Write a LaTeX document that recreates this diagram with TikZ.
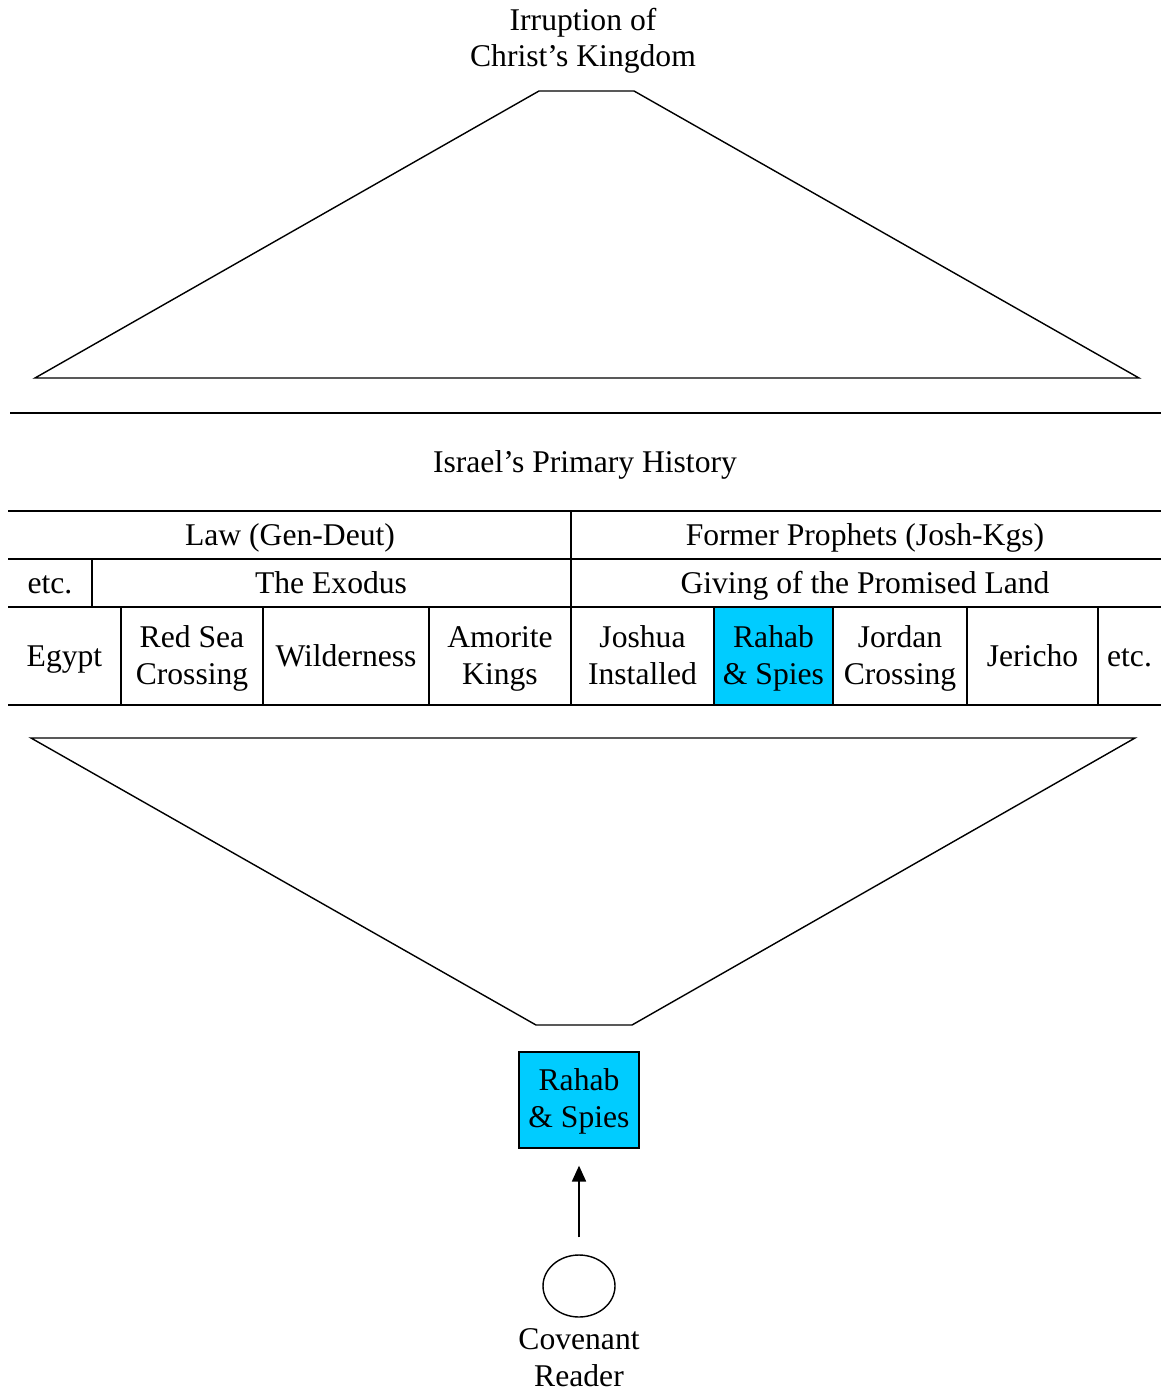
\documentclass[tikz,border=0pt]{standalone}
\usepackage{fontspec}
\setmainfont{Liberation Serif}
\usepackage{tikz}
\usetikzlibrary{arrows.meta,shapes.geometric}
\definecolor{rahabCyan}{HTML}{00CCFF}

\begin{document}
\begin{tikzpicture}[x=0.02cm, y=-0.02cm, line width=0.8pt,
        every node/.style={font=\fontsize{18}{21}\selectfont, align=center, inner sep=0pt},
        label/.style={anchor=base},
        grid/.style={line width=1.1pt}]
                \useasboundingbox (0, 0) rectangle (1161, 1391);
                \node[label] (kingdom) at (583, 67) {Irruption of\\Christ's Kingdom};
                \draw (35, 378) -- (539, 91) -- (634, 91) -- (1139, 378) -- cycle;
                \draw[grid] (10, 413) -- (1161, 413);
                \node[label] (history) at (585, 472) {Israel's Primary History};
                \fill[rahabCyan] (714, 607) rectangle (833, 705);
                \foreach \y in {511, 559, 607, 705}
                    \draw[grid] (8, \y) -- (1161, \y);
                \draw[grid] (571, 511) -- (571, 705);
                \draw[grid] (92, 559) -- (92, 607);
                \foreach \x in {121, 263, 429, 714, 833, 967, 1098}
                    \draw[grid] (\x, 607) -- (\x, 705);
                \node[label] (law) at (290, 545) {Law (Gen-Deut)};
                \node[label] (prophets) at (865, 545) {Former Prophets (Josh-Kgs)};
                \node[label] (etcA) at (50, 593) {etc.};
                \node[label] (exodus) at (331, 593) {The Exodus};
                \node[label] (land) at (865, 593) {Giving of the Promised Land};
                \foreach \l/\r/\t/\b [count=\i] in {8/121/Egypt/666, 121/263/Red Sea\\Crossing/684, 263/429/Wilderness/666,
                        429/571/Amorite\\Kings/684, 571/714/Joshua\\Installed/684, 714/833/Rahab\\\& Spies/684,
                        833/967/Jordan\\Crossing/684, 967/1098/Jericho/666, 1098/1161/etc./666}
                    \node[label] (event\i) at ({(\l + \r) / 2}, \b) {\t};
                \draw (31, 738) -- (1135, 738) -- (632, 1025) -- (536, 1025) -- cycle;
                \node[draw, fill=rahabCyan, minimum width=2.4cm, minimum height=1.92cm] (spies) at (579, 1100) {};
                \node[label] (spiestext) at (579, 1127) {Rahab\\\& Spies};
                \node[draw, ellipse, minimum width=1.44cm, minimum height=1.24cm] (reader) at (579, 1286) {};
                \node[label] (readertext) at (579, 1386) {Covenant\\Reader};
                \draw[-{Triangle[length=9pt, width=8pt]}, shorten <=0.34cm, shorten >=0.34cm] (reader) -- (spies);
            \end{tikzpicture}
\end{document}
